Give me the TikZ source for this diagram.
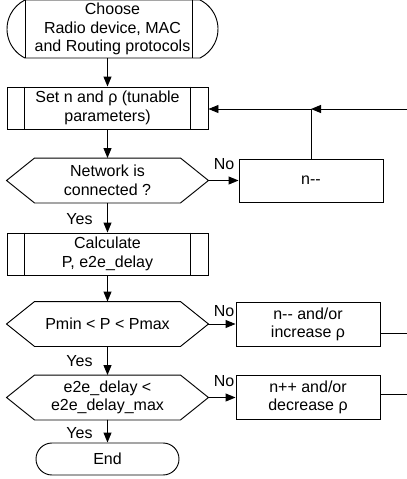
\documentclass[tikz,border=0pt]{standalone}
\usepackage{fontspec}
\setmainfont{Liberation Sans}
\usetikzlibrary{arrows.meta,shapes.misc}

\begin{document}
\begin{tikzpicture}[x=0.75pt,y=-0.75pt,line width=0.7pt,>={Triangle[length=7.5pt,width=6pt]},font=\fontsize{12}{13.9}\selectfont]
\tikzset{predef/.style={draw, rectangle, align=center, minimum width=150.75pt, minimum height=31.5pt, inner sep=0pt}}
\tikzset{choix/.style={rectangle, align=center, minimum width=150.75pt, minimum height=33pt, inner sep=0pt}}
\tikzset{action/.style={draw, rectangle, align=center, minimum width=108pt, minimum height=33pt, inner sep=0pt}}
\tikzset{terminal/.style={draw, rounded rectangle, align=center, inner sep=0pt}}
\tikzset{reponse/.style={inner sep=0pt}}
\useasboundingbox (0,0) rectangle (407,479);
% start and process boxes
\node[terminal, minimum width=158.25pt, minimum height=43.5pt, rounded rectangle arc length=127] (debut) at (112.5,29) {Choose\\Radio device, MAC\\and Routing protocols};
\draw ([xshift=-65.6pt]debut.north) -- ([xshift=-65.6pt]debut.south);
\draw ([xshift=59.6pt]debut.north) -- ([xshift=59.6pt]debut.south);
\node[predef] (regler) at (107.5,108) {Set n and ρ (tunable\\parameters)};
\node[choix] (connexe) at (107.5,180.5) {Network is\\connected ?};
\node[predef] (calcul) at (107.5,254) {Calculate\\P, e2e\_delay};
\node[choix] (plage) at (107.5,324) {Pmin < P < Pmax};
\node[choix] (delai) at (107.5,397.5) {e2e\_delay <\\e2e\_delay\_max};
\node[terminal, minimum width=107.25pt, minimum height=24pt] (fin) at (107.5,459) {End};
\node[action, minimum height=32.25pt] (moins) at (311,180.5) {n-\kern0pt-};
\node[action] (moinsrho) at (308,324.5) {n-\kern0pt- and/or\\increase ρ};
\node[action] (plusrho) at (308,397.5) {n++ and/or\\decrease ρ};
% decision outlines
\foreach \d in {connexe,plage,delai}
  \draw (\d.west) -- ([xshift=21pt]\d.north west) -- ([xshift=-21pt]\d.north east) -- (\d.east)
        -- ([xshift=-21pt]\d.south east) -- ([xshift=21pt]\d.south west) -- cycle;
\foreach \b in {regler,calcul}
  \draw ([xshift=13.5pt]\b.north west) -- ([xshift=13.5pt]\b.south west)
        ([xshift=-13.5pt]\b.north east) -- ([xshift=-13.5pt]\b.south east);
% main flow
\draw[->] (debut.south -| regler) -- (regler.north);
\draw[->] (regler) -- (connexe);
\draw[->] (connexe) -- (calcul);
\draw[->] (calcul) -- (plage);
\draw[->] (plage) -- (delai);
\draw[->] (delai) -- (fin);
\draw[->] (connexe) -- (moins);
\draw[->] (plage.east) -- (plage.east -| moinsrho.west);
\draw[->] (delai.east) -- (delai.east -| plusrho.west);
% loop back
\coordinate (retour) at (407,109);
\coordinate (jonction) at (moins.north |- retour);
\draw[->] (retour) -- (jonction);
\draw[->] (jonction) -- (jonction -| regler.east);
\draw (moins.north) -- (jonction);
\coordinate (sortie1) at (407,333);
\coordinate (sortie2) at (407,394);
\draw (moinsrho.east |- sortie1) -- (sortie1);
\draw (plusrho.east |- sortie2) -- (sortie2);
% labels
\node[reponse, anchor=south west] (non1) at ([xshift=3.75pt,yshift=7.5pt]connexe.east) {No};
\node[reponse, anchor=south west] (non2) at ([xshift=3.75pt,yshift=5.25pt]plage.east) {No};
\node[reponse, anchor=south west] (non3) at ([xshift=3.75pt,yshift=7.5pt]delai.east) {No};
\node[reponse, anchor=north east] (oui1) at ([xshift=-10.9pt,yshift=-7.5pt]connexe.south) {Yes};
\node[reponse, anchor=north east] (oui2) at ([xshift=-10.9pt,yshift=-6.75pt]plage.south) {Yes};
\node[reponse, anchor=north east] (oui3) at ([xshift=-10.9pt,yshift=-5.25pt]delai.south) {Yes};
\end{tikzpicture}
\end{document}
